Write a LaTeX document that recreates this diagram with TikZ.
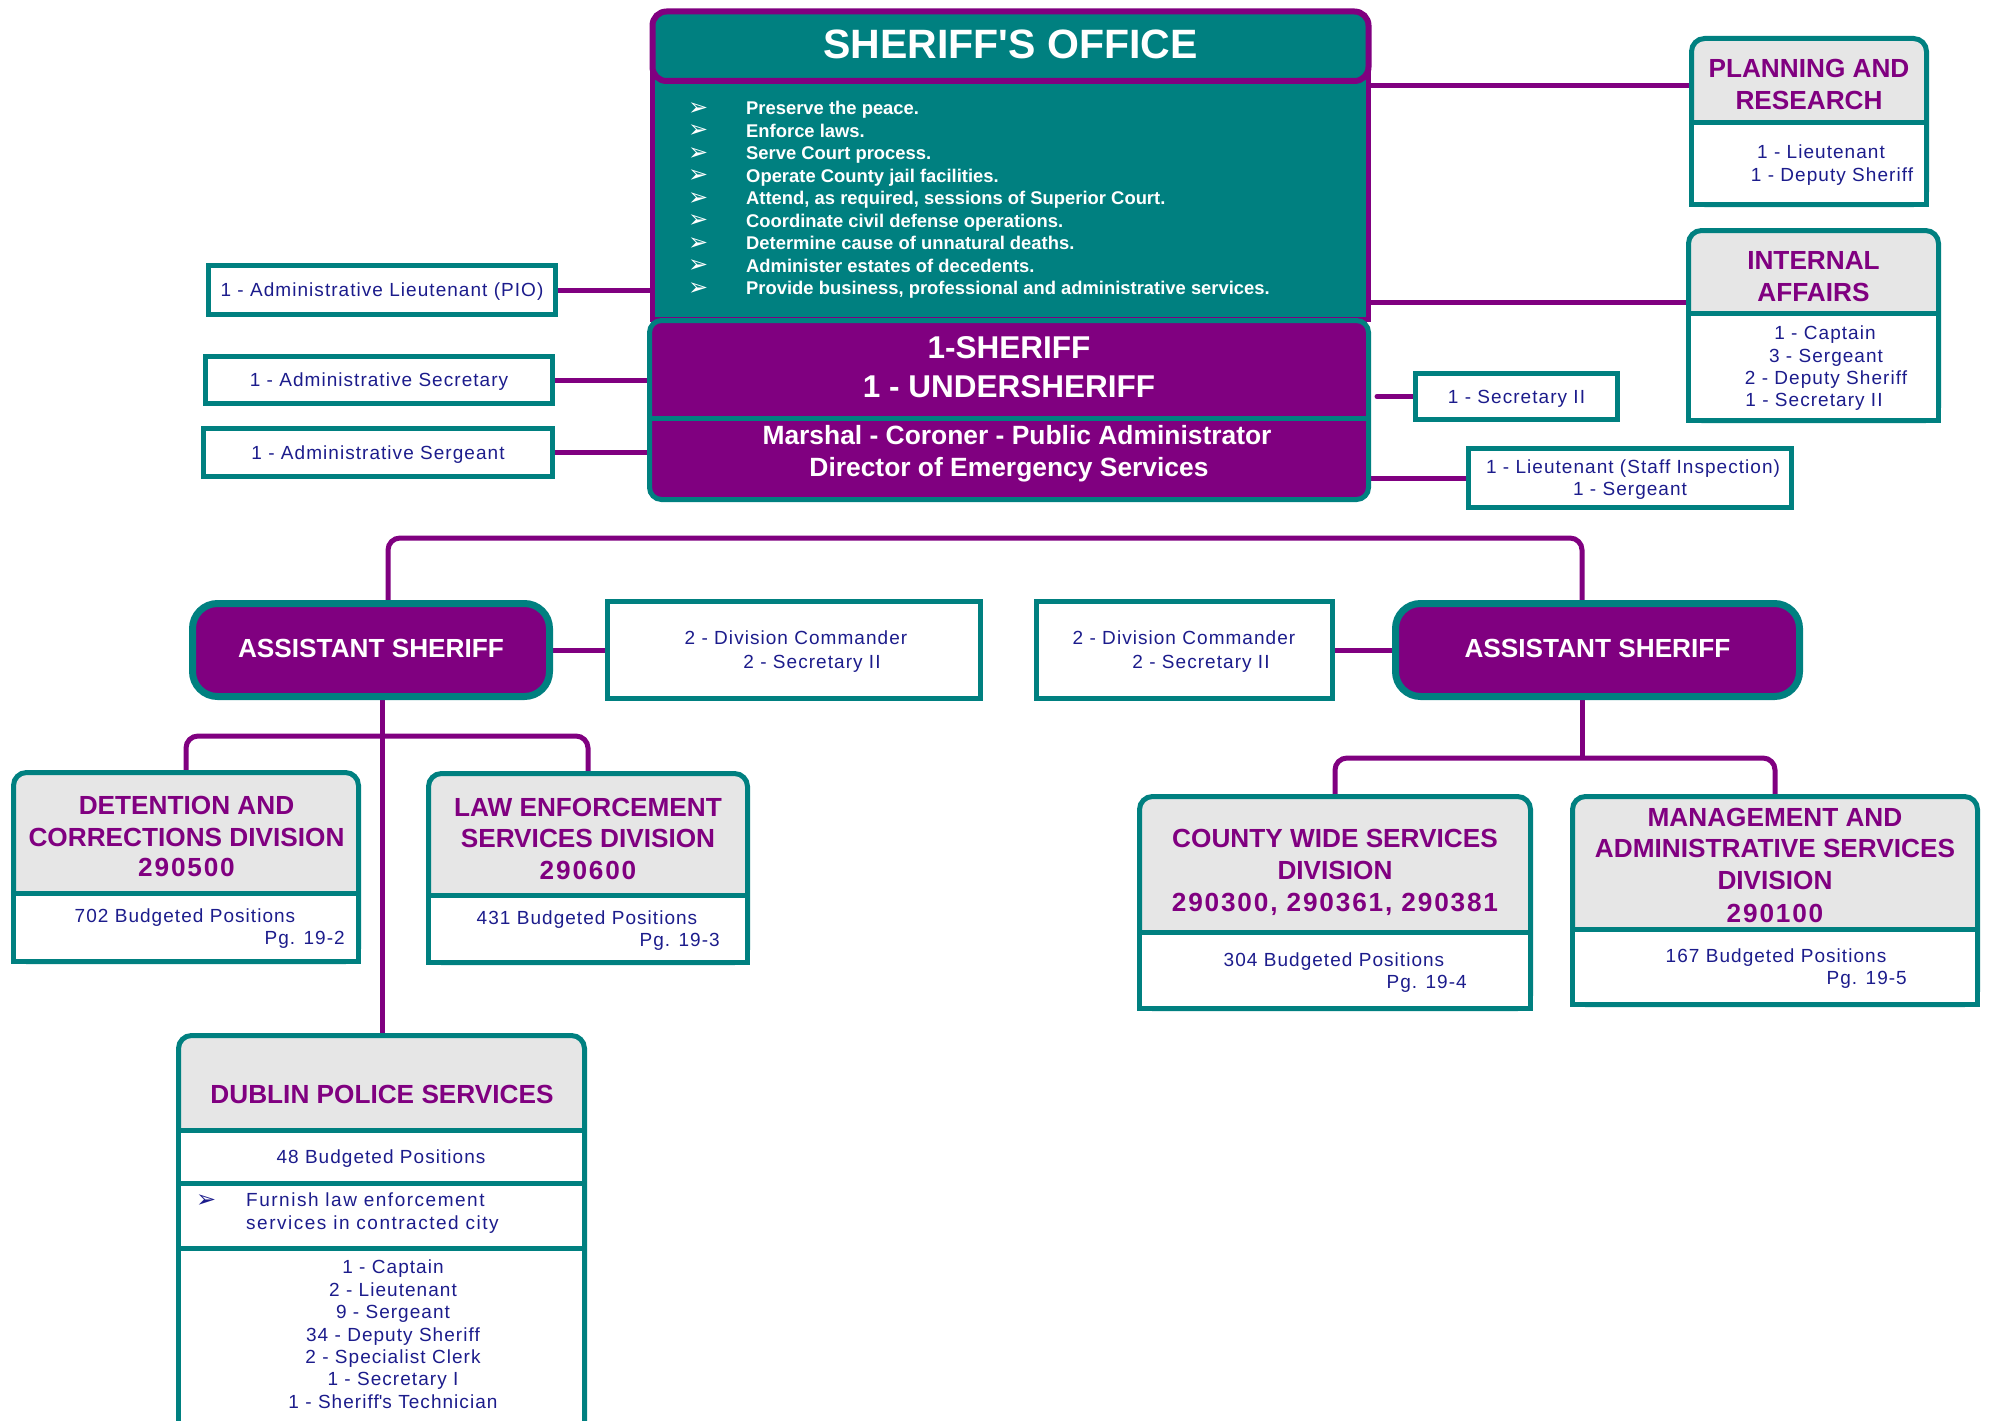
\documentclass[tikz,border=0pt]{standalone}
\usepackage{fontspec}
\setmainfont{Liberation Sans}
\newfontfamily\symf{DejaVu Sans}
\newfontfamily\spf[LetterSpace=5.5]{Liberation Sans}
\newfontfamily\spwf[LetterSpace=8]{Liberation Sans}
\newfontfamily\numf[LetterSpace=7]{Liberation Sans}
\definecolor{tealc}{RGB}{0,128,128}
\definecolor{purp}{RGB}{128,0,128}
\definecolor{navyc}{RGB}{28,28,140}
\definecolor{grayc}{RGB}{230,230,230}
\pgfdeclarelayer{bg}
\pgfsetlayers{bg,main}
\newcommand\obx[6]{%
  \pgfmathsetmacro\mbw{#5-#3}%
  \pgfmathsetmacro\mbh{#6-#4}%
  \pgfmathsetmacro\mbx{(#3+#5)/2}%
  \pgfmathsetmacro\mby{(#4+#6)/2}%
  \node[rectangle, inner sep=0pt, #2, minimum width=\mbw pt, minimum height=\mbh pt] (#1) at (\mbx,\mby) {};}
\tikzset{
  conn/.style={draw=purp, line width=5pt},
  wbox/.style={draw=tealc, line width=5pt, fill=white},
  gbox/.style={draw=tealc, line width=5pt, fill=grayc, rounded corners=13pt},
  asbox/.style={draw=tealc, line width=7pt, fill=purp, rounded corners=25pt},
  sm/.style={font=\spf\fontsize{19}{22}\selectfont, text=navyc, inner sep=0pt, text height=13.6pt, text depth=0pt},
  smw/.style={sm, font=\spwf\fontsize{19}{22}\selectfont},
  hd/.style={font=\bfseries\fontsize{26.2}{31}\selectfont, text=purp, inner sep=0pt, text height=18.8pt, text depth=0pt},
  nm/.style={hd, font=\numf\bfseries\fontsize{26.2}{31}\selectfont},
  asx/.style={hd, text=white},
  ttl/.style={font=\bfseries\fontsize{41}{49}\selectfont, text=white, inner sep=0pt, text height=29.4pt, text depth=0pt},
  bl/.style={font=\bfseries\fontsize{18.4}{22}\selectfont, text=white, inner sep=0pt, text height=13.2pt, text depth=0pt},
  shf/.style={font=\bfseries\fontsize{31.5}{38}\selectfont, text=white, inner sep=0pt, text height=22.6pt, text depth=0pt},
  mrs/.style={font=\bfseries\fontsize{26.4}{32}\selectfont, text=white, inner sep=0pt, text height=18.9pt, text depth=0pt},
  arw/.style={font=\symf\fontsize{24}{24}\selectfont, inner sep=0pt, text height=14pt, text depth=0pt, anchor=west}
}
\begin{document}
\begin{tikzpicture}[x=1pt,y=-1pt]
\useasboundingbox (0,0) rectangle (1990,1421);
\clip (0,0) rectangle (1990,1421);

% ---------- main office ----------
\obx{office}{draw=purp, fill=tealc, line width=5pt}{652.5}{40}{1368.5}{319.5}
\obx{title}{draw=purp, fill=tealc, line width=6pt, rounded corners=14pt}{652.5}{11.5}{1368.5}{81}
\obx{chief}{draw=tealc, fill=purp, line width=5pt, rounded corners=12pt}{649.5}{320.5}{1368.5}{499.5}
\draw[tealc, line width=5pt] (chief.west |- 0,418) -- (chief.east |- 0,418);

\node[ttl] (ttlt) at (1010.5,44) {SHERIFF\textquotesingle S OFFICE};
\foreach \txt [count=\i from 0] in {{Preserve the peace.},{Enforce laws.},{Serve Court process.},{Operate County jail facilities.},{Attend, as required, sessions of Superior Court.},{Coordinate civil defense operations.},{Determine cause of unnatural deaths.},{Administer estates of decedents.},{Provide business, professional and administrative services.}}{
  \node[bl, anchor=west] (bt\i) at (746,{108+22.5*\i}) {\txt};
  \node[arw, text=white] (ba\i) at (688,{108+22.5*\i}) {➢};
}
\node[shf] (sh1) at (1009,347) {1-SHERIFF};
\node[shf] (sh2) at (1009,386) {1 - UNDERSHERIFF};
\node[mrs] (mr1) at (1017,435) {Marshal - Coroner - Public Administrator};
\node[mrs] (mr2) at (1009,467) {Director of Emergency Services};

% ---------- left staff boxes ----------
\obx{pio}{wbox}{208.5}{265.5}{555.5}{314.5}
\obx{asec}{wbox}{205.5}{356.5}{552.5}{403.5}
\obx{asgt}{wbox}{203.5}{428.5}{552.5}{476.5}
\node[sm] (piot) at (pio) {1 - Administrative Lieutenant (PIO)};
\node[sm] (asect) at (asec) {1 - Administrative Secretary};
\node[sm] (asgtt) at (asgt) {1 - Administrative Sergeant};

% ---------- right staff boxes ----------
\obx{plan}{gbox}{1691.5}{38.5}{1926.5}{204.5}
\obx{planb}{wbox}{1691.5}{122}{1926.5}{204.5}
\node[hd] (plan1) at (1809,68) {PLANNING AND};
\node[hd] (plan2) at (1809,100) {RESEARCH};
\node[sm] (plan3) at (1821,152) {1 - Lieutenant};
\node[sm] (plan4) at (1832,175) {1 - Deputy Sheriff};

\obx{ia}{gbox}{1688.5}{230.5}{1938.5}{420.5}
\obx{iab}{wbox}{1688.5}{313}{1938.5}{420.5}
\node[hd] (ia1) at (1813.5,260) {INTERNAL};
\node[hd] (ia2) at (1813.5,292) {AFFAIRS};
\node[sm] (ia3) at (1825,333) {1 - Captain};
\node[sm] (ia4) at (1826,355.5) {3 - Sergeant};
\node[sm] (ia5) at (1826,378) {2 - Deputy Sheriff};
\node[sm] (ia6) at (1814,400) {1 - Secretary II};

\obx{sec2}{wbox}{1415.5}{373.5}{1617.5}{419.5}
\node[sm] (sec2t) at (sec2) {1 - Secretary II};
\obx{staff}{wbox}{1468.5}{448.5}{1791.5}{507.5}
\node[sm] (st1) at (1633,467) {1 - Lieutenant (Staff Inspection)};
\node[sm] (st2) at (1630,489) {1 - Sergeant};

% ---------- assistant sheriffs ----------
\obx{as1}{asbox}{192.5}{603.5}{549.5}{696.5}
\obx{as2}{asbox}{1395.5}{603.5}{1799.5}{696.5}
\node[asx] (as1t) at (371,648) {ASSISTANT SHERIFF};
\node[asx] (as2t) at (1597.5,648) {ASSISTANT SHERIFF};
\obx{dc1}{wbox}{607.5}{601.5}{980.5}{698.5}
\obx{dc2}{wbox}{1036.5}{601.5}{1332.5}{698.5}
\node[sm] (dc1a) at (796,638) {2 - Division Commander};
\node[sm] (dc1b) at (812,662) {2 - Secretary II};
\node[sm] (dc2a) at (1184,638) {2 - Division Commander};
\node[sm] (dc2b) at (1201,662) {2 - Secretary II};

% ---------- divisions ----------
\obx{det}{gbox}{13.5}{772.5}{358.5}{961.5}
\obx{detb}{wbox}{13.5}{893}{358.5}{961.5}
\node[hd] (det1) at (186.5,805) {DETENTION AND};
\node[hd] (det2) at (186.5,837) {CORRECTIONS DIVISION};
\node[nm] (det3) at (186.5,867) {290500};
\node[sm] (det4) at (185,916) {702 Budgeted Positions};
\node[sm, anchor=east] (det5) at (345,938) {Pg. 19-2};

\obx{law}{gbox}{428.5}{773.5}{747.5}{962.5}
\obx{lawb}{wbox}{428.5}{895}{747.5}{962.5}
\node[hd] (law1) at (588,807) {LAW ENFORCEMENT};
\node[hd] (law2) at (588,838) {SERVICES DIVISION};
\node[nm] (law3) at (588,870) {290600};
\node[sm] (law4) at (587,918) {431 Budgeted Positions};
\node[sm, anchor=east] (law5) at (720,940) {Pg. 19-3};

\obx{cws}{gbox}{1139.5}{796.5}{1530.5}{1008.5}
\obx{cwsb}{wbox}{1139.5}{932}{1530.5}{1008.5}
\node[hd] (cws1) at (1335,838) {COUNTY WIDE SERVICES};
\node[hd] (cws2) at (1335,870) {DIVISION};
\node[nm] (cws3) at (1335,902) {290300, 290361, 290381};
\node[sm] (cws4) at (1334,960) {304 Budgeted Positions};
\node[sm, anchor=east] (cws5) at (1467,982) {Pg. 19-4};

\obx{mas}{gbox}{1572.5}{796.5}{1977.5}{1004.5}
\obx{masb}{wbox}{1572.5}{929}{1977.5}{1004.5}
\node[hd] (mas1) at (1775,817) {MANAGEMENT AND};
\node[hd] (mas2) at (1775,848) {ADMINISTRATIVE SERVICES};
\node[hd] (mas3) at (1775,880) {DIVISION};
\node[nm] (mas4) at (1775,913) {290100};
\node[sm] (mas5) at (1776,956) {167 Budgeted Positions};
\node[sm, anchor=east] (mas6) at (1907,978) {Pg. 19-5};

% ---------- Dublin ----------
\obx{dub}{gbox}{178.5}{1035.5}{584.5}{1460}
\obx{dubb1}{wbox}{178.5}{1130}{584.5}{1183}
\obx{dubb2}{wbox}{178.5}{1183}{584.5}{1248}
\obx{dubb3}{wbox}{178.5}{1248}{584.5}{1460}
\node[hd] (dub1) at (382,1094) {DUBLIN POLICE SERVICES};
\node[sm] (dub2) at (381,1157) {48 Budgeted Positions};
\node[arw, text=navyc] (dubar) at (196,1200) {➢};
\node[smw, anchor=west] (dub3) at (246,1200) {Furnish law enforcement};
\node[smw, anchor=west] (dub4) at (246,1223) {services in contracted city};
\foreach \txt [count=\i from 0] in {{1 - Captain},{2 - Lieutenant},{9 - Sergeant},{34 - Deputy Sheriff},{2 - Specialist Clerk},{1 - Secretary I},{1 - Sheriff\textquotesingle s Technician}}{
  \node[sm] (dl\i) at (393,{1267+22.4*\i}) {\txt};
}

% ---------- connectors ----------
\begin{pgfonlayer}{bg}
\draw[conn] (pio.east) -- (pio.east -| office.west);
\draw[conn] (asec.east) -- (asec.east -| chief.west);
\draw[conn] (asgt.east) -- (asgt.east -| chief.west);
\draw[conn] (office.east |- 0,86) -- (plan.west |- 0,86);
\draw[conn] (office.east |- 0,302) -- (ia.west |- 0,302);
\draw[conn, line cap=round] ([xshift=6pt]chief.east |- sec2.west) -- (sec2.west);
\draw[conn] (chief.east |- staff.west) -- (staff.west);
\draw[conn] (as1.east) -- (dc1.west);
\draw[conn] (dc2.east) -- (as2.west);
\draw[conn, rounded corners=12pt] (as1.north -| 388,0) -- (388,538) -- (1582,538) -- (as2.north -| 1582,0);
\draw[conn] (as1.south -| 382,0) -- (dub.north -| 382,0);
\draw[conn, rounded corners=12pt] (det.north) -- (det.north |- 0,736) -- (law.north |- 0,736) -- (law.north);
\draw[conn] (as2.south -| 1582,0) -- (1582,758);
\draw[conn, rounded corners=12pt] (cws.north) -- (cws.north |- 0,758) -- (mas.north |- 0,758) -- (mas.north);
\end{pgfonlayer}
\end{tikzpicture}
\end{document}
